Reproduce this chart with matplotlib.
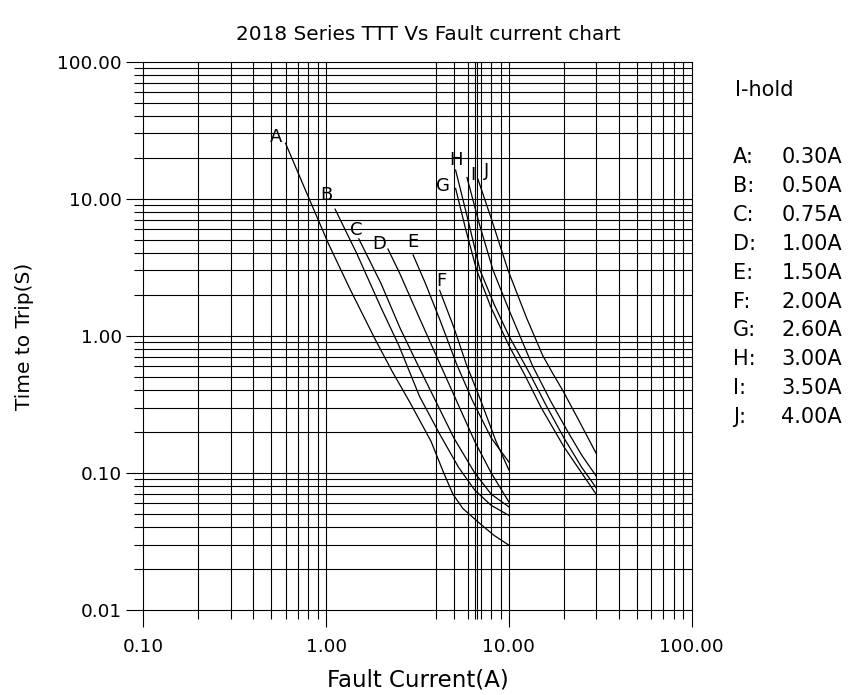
import numpy as np
import matplotlib
matplotlib.use("Agg")
import matplotlib.pyplot as plt
from matplotlib import ticker

plt.rcParams.update(
    {
        "font.family": "DejaVu Sans",
        "font.size": 13,
    }
)

# curve data: fault current (A) -> time to trip (s)
labels = ["A", "B", "C", "D", "E", "F", "G", "H", "I", "J"]
i_hold = ["0.30A", "0.50A", "0.75A", "1.00A", "1.50A", "2.00A", "2.60A", "3.00A", "3.50A", "4.00A"]

a_x = [0.6, 0.8, 1.03, 1.35, 1.85, 2.3, 2.9, 3.75, 4.4, 4.94, 5.6, 6.9, 8.3, 10.0]
a_y = [25.4, 10.3, 4.7, 2.2, 0.95, 0.55, 0.32, 0.17, 0.1, 0.07, 0.055, 0.043, 0.035, 0.0297]
b_x = [1.12, 1.47, 2.0, 2.5, 3.25, 4.2, 5.3, 6.5, 8.0, 10.0]
b_y = [8.4, 4.0, 1.6, 0.85, 0.36, 0.19, 0.11, 0.075, 0.058, 0.049]
c_x = [1.51, 2.0, 2.53, 3.2, 3.87, 5.0, 6.5, 8.0, 10.0]
c_y = [5.1, 2.4, 1.15, 0.6, 0.36, 0.18, 0.1, 0.07, 0.0565]
d_x = [2.18, 2.53, 3.2, 4.0, 5.05, 6.5, 8.0, 10.0]
d_y = [4.3, 2.85, 1.4, 0.72, 0.36, 0.17, 0.1, 0.0614]
e_x = [2.99, 3.5, 4.2, 5.18, 6.3, 8.0, 10.0]
e_y = [3.9, 2.4, 1.3, 0.62, 0.34, 0.18, 0.12]
f_x = [4.18, 5.0, 5.85, 7.0, 8.5, 10.0]
f_y = [2.15, 1.15, 0.62, 0.34, 0.17, 0.105]
g_x = [5.11, 5.8, 6.67, 8.0, 10.0, 12.2, 15.0, 20.0, 25.0, 30.0]
g_y = [11.9, 6.0, 3.0, 1.6, 0.85, 0.52, 0.3, 0.155, 0.1, 0.07]
h_x = [5.11, 5.9, 6.96, 8.3, 10.0, 13.0, 16.0, 20.0, 25.0, 30.0]
h_y = [16.2, 7.5, 3.0, 1.7, 1.0, 0.53, 0.31, 0.18, 0.11, 0.078]
i_x = [5.9, 6.9, 8.2, 10.0, 13.5, 17.0, 21.0, 25.0, 30.0]
i_y = [14.3, 6.5, 3.0, 1.55, 0.6, 0.33, 0.2, 0.135, 0.095]
j_x = [6.77, 8.0, 9.9, 12.5, 15.3, 17.4, 19.7, 24.0, 30.0]
j_y = [13.9, 7.2, 3.0, 1.35, 0.72, 0.53, 0.4, 0.245, 0.139]

curves_x = [a_x, b_x, c_x, d_x, e_x, f_x, g_x, h_x, i_x, j_x]
curves_y = [a_y, b_y, c_y, d_y, e_y, f_y, g_y, h_y, i_y, j_y]

# where each curve letter sits relative to the start of its line (points)
label_off = [(-6.5, 4.5), (-6.5, 10), (-2, 6.5), (-6, 3.5), (0, 9.5),
             (1.5, 7), (-9, 1.5), (0, 7), (4, 2), (6, 6)]

x_major = [0.1, 1, 10, 100]
y_major = [0.01, 0.1, 1, 10, 100]
# minor vertical lines per decade as drawn on the original sheet
x_minor_subs = [
    [2, 3, 4, 5, 6, 7, 8, 9],
    [4, 5, 6, 6.55, 6.72, 7, 8, 9],
    [2, 3, 4, 5, 6, 7, 8, 9],
]
y_minor_subs = [2, 3, 4, 5, 6, 7, 8, 9]

fig = plt.figure(figsize=(8.57, 6.95), dpi=100)
W, H = 857, 695
ax = fig.add_axes([143.3 / W, 1 - 610 / H, (691.7 - 143.3) / W, (610 - 61.7) / H])

ax.set_xscale("log")
ax.set_yscale("log")
ax.set_xlim(0.1, 100)
ax.set_ylim(0.01, 100)

for s in ax.spines.values():
    s.set_visible(False)

minor_x = [k * x_major[d] for d, subs in enumerate(x_minor_subs) for k in subs]
minor_y = [k * y_major[d] for d in range(4) for k in y_minor_subs]
ax.xaxis.set_major_locator(ticker.FixedLocator(x_major))
ax.yaxis.set_major_locator(ticker.FixedLocator(y_major))
ax.xaxis.set_minor_locator(ticker.FixedLocator(minor_x))
ax.yaxis.set_minor_locator(ticker.FixedLocator(minor_y))
ax.xaxis.set_major_formatter(ticker.FormatStrFormatter("%.2f"))
ax.yaxis.set_major_formatter(ticker.FormatStrFormatter("%.2f"))
ax.xaxis.set_minor_formatter(ticker.NullFormatter())
ax.yaxis.set_minor_formatter(ticker.NullFormatter())

ax.grid(which="both", color="black", linewidth=0.8)
ax.tick_params(which="major", direction="out", length=12.5, width=0.8, color="black")
ax.tick_params(which="minor", direction="out", length=6.5, width=0.8, color="black")
ax.tick_params(axis="x", which="major", pad=8, labelsize=13.3)
ax.tick_params(axis="y", which="major", pad=3, labelsize=13.3)
for axis in (ax.xaxis, ax.yaxis):
    for t in axis.get_major_ticks() + axis.get_minor_ticks():
        t.gridline.set_clip_on(False)

for lab, xs, ys, off in zip(labels, curves_x, curves_y, label_off):
    ax.plot(xs, ys, color="black", linewidth=0.9)
    ax.annotate(lab, (xs[0], ys[0]), xytext=off, textcoords="offset points",
                ha="center", va="center", fontsize=13)

fig.text(0.5, 1 - 35 / H, "2018 Series TTT Vs Fault current chart", ha="center", va="center", fontsize=14.4)
fig.text(417.5 / W, 1 - 680 / H, "Fault Current(A)", ha="center", va="center", fontsize=16.5)
fig.text(25 / W, 1 - 336 / H, "Time to Trip(S)", ha="center", va="center", rotation=90, fontsize=14.5)

fig.text(735 / W, 1 - 90 / H, "I-hold", ha="left", va="center", fontsize=15)
for k, (lab, val) in enumerate(zip(labels, i_hold)):
    yy = 1 - (157 + 28.9 * k) / H
    fig.text(733 / W, yy, lab + ":", ha="left", va="center", fontsize=15)
    fig.text(842 / W, yy, val, ha="right", va="center", fontsize=15)

fig.savefig("out.png", dpi=100)
